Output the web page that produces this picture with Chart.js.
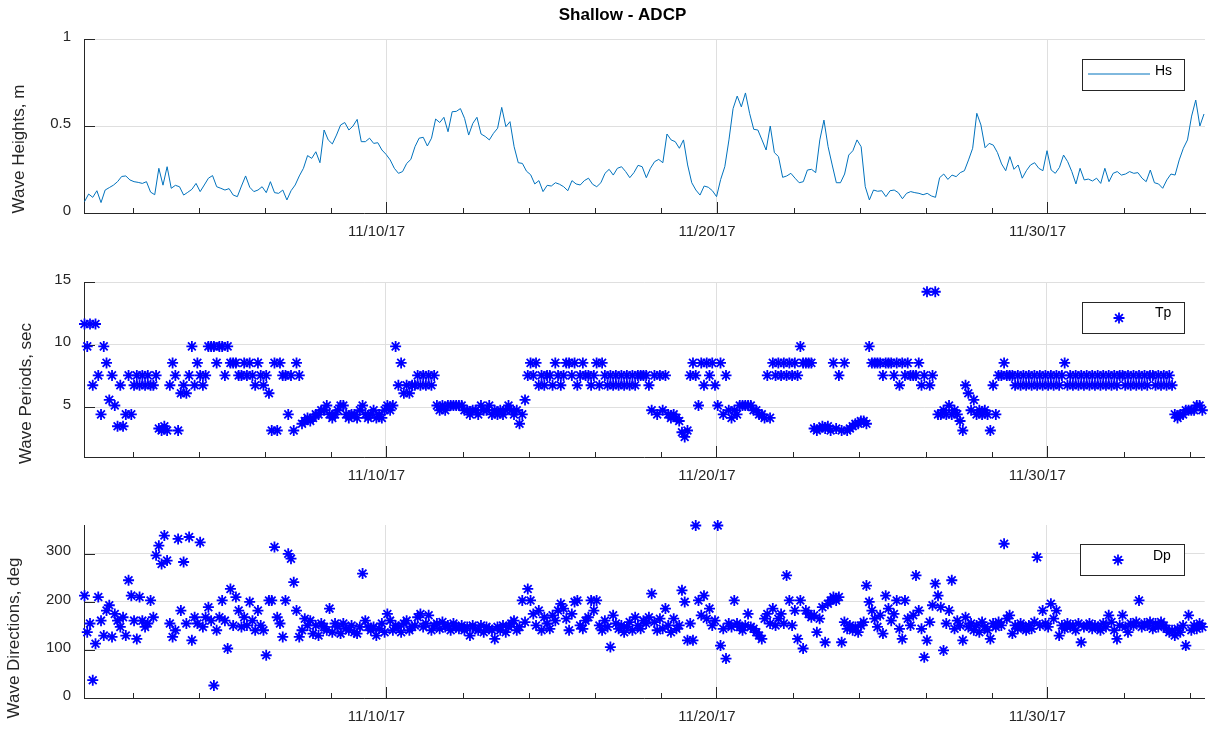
<!DOCTYPE html>
<html>
<head>
<meta charset="utf-8">
<title>Shallow - ADCP</title>
<script src="https://cdn.jsdelivr.net/npm/chart.js@4.4.1/dist/chart.umd.min.js"></script>
<style>
  html, body { margin: 0; padding: 0; background: #fff; }
  #wrap { position: relative; width: 1212px; height: 729px; overflow: hidden; }
  #wrap canvas { position: absolute; left: 0; }
</style>
</head>
<body>
<div id="wrap">
  <canvas id="hs" width="1212" height="243" style="top:0"></canvas>
  <canvas id="tp" width="1212" height="243" style="top:243px"></canvas>
  <canvas id="dp" width="1212" height="243" style="top:486px"></canvas>
</div>
<script>
// time axis: x = day of November 2017 (11/10/17 00:00 -> 10)
// first record 10/31/17 21:00, Hs every 3 h, Tp and Dp every 2 h
const startDay = 0.875;
const hsStepHours = 3;
const waveStepHours = 2;
const xMin = 0.86, xMax = 34.78;
const xTickDays = [10, 20, 30];
const xTickLabels = ['11/10/17', '11/20/17', '11/30/17'];
const minorTickDays = [2.33, 4.33, 6.33, 8.33, 12.33, 14.33, 16.33, 18.33, 22.33, 24.33, 26.33, 28.33, 32.33, 34.33];

const hsTicks = [0, 0.5, 1];
const tpTicks = [5, 10, 15];
const dpTicks = [0, 100, 200, 300];

// significant wave height, m
const hsValues = [
  0.065, 0.109, 0.09, 0.128, 0.06, 0.132, 0.146, 0.16, 0.18, 0.21,
  0.213, 0.19, 0.18, 0.176, 0.17, 0.18, 0.12, 0.105, 0.257, 0.16,
  0.266, 0.142, 0.159, 0.151, 0.103, 0.119, 0.136, 0.17, 0.123, 0.161,
  0.2, 0.215, 0.151, 0.142, 0.132, 0.14, 0.103, 0.094, 0.155, 0.213,
  0.148, 0.123, 0.132, 0.151, 0.117, 0.18, 0.117, 0.113, 0.132, 0.075,
  0.128, 0.161, 0.213, 0.257, 0.33, 0.314, 0.352, 0.289, 0.477, 0.42,
  0.397, 0.448, 0.506, 0.52, 0.477, 0.5, 0.538, 0.41, 0.41, 0.43,
  0.4, 0.404, 0.362, 0.337, 0.305, 0.257, 0.228, 0.238, 0.285, 0.308,
  0.381, 0.43, 0.435, 0.385, 0.43, 0.54, 0.52, 0.55, 0.467, 0.582,
  0.584, 0.6, 0.544, 0.448, 0.515, 0.55, 0.454, 0.44, 0.42, 0.458,
  0.487, 0.607, 0.496, 0.525, 0.381, 0.289, 0.285, 0.24, 0.22, 0.167,
  0.186, 0.123, 0.159, 0.155, 0.174, 0.165, 0.151, 0.128, 0.186, 0.167,
  0.161, 0.186, 0.2, 0.165, 0.151, 0.174, 0.228, 0.251, 0.218, 0.257,
  0.266, 0.238, 0.203, 0.232, 0.274, 0.266, 0.203, 0.257, 0.295, 0.308,
  0.289, 0.454, 0.42, 0.41, 0.372, 0.42, 0.276, 0.174, 0.132, 0.103,
  0.155, 0.148, 0.128, 0.094, 0.193, 0.266, 0.42, 0.6, 0.672, 0.61,
  0.69, 0.573, 0.481, 0.477, 0.42, 0.362, 0.5, 0.347, 0.324, 0.205,
  0.213, 0.228, 0.2, 0.174, 0.18, 0.247, 0.251, 0.232, 0.42, 0.534,
  0.381, 0.276, 0.174, 0.174, 0.224, 0.333, 0.358, 0.42, 0.381, 0.151,
  0.075, 0.132, 0.125, 0.128, 0.094, 0.128, 0.132, 0.117, 0.082, 0.113,
  0.123, 0.117, 0.113, 0.105, 0.113, 0.098, 0.09, 0.203, 0.224, 0.193,
  0.218, 0.209, 0.232, 0.243, 0.305, 0.372, 0.573, 0.506, 0.375, 0.4,
  0.39, 0.347, 0.282, 0.243, 0.324, 0.251, 0.276, 0.2, 0.243, 0.276,
  0.289, 0.257, 0.243, 0.358, 0.247, 0.228, 0.262, 0.333, 0.295, 0.238,
  0.167, 0.257, 0.19, 0.195, 0.184, 0.2, 0.17, 0.257, 0.18, 0.228,
  0.238, 0.218, 0.224, 0.238, 0.228, 0.232, 0.2, 0.18, 0.247, 0.174,
  0.167, 0.142, 0.19, 0.224, 0.218, 0.305, 0.372, 0.42, 0.557, 0.649,
  0.5, 0.569
];

// peak period, sec
const tpValues = [
  11.64, 9.85, 11.64, 6.74, 11.64, 7.53, 4.41, 9.85, 8.53, 5.57,
  7.53, 5.12, 3.46, 6.74, 3.46, 4.41, 7.53, 4.41, 6.74, 7.53,
  6.74, 7.53, 6.74, 7.53, 6.74, 6.74, 7.53, 3.28, 3.12, 3.46,
  3.12, 6.74, 8.53, 7.53, 3.12, 6.10, 6.74, 6.10, 7.53, 9.85,
  6.74, 8.53, 7.53, 6.74, 7.53, 9.85, 9.85, 9.85, 8.53, 9.85,
  9.85, 7.53, 9.85, 8.53, 8.53, 8.53, 7.53, 7.53, 8.53, 7.53,
  8.53, 7.53, 6.74, 8.53, 7.53, 6.74, 7.53, 6.10, 3.12, 8.53,
  3.12, 8.53, 7.53, 7.53, 4.41, 7.53, 3.12, 8.53, 7.53, 3.66,
  3.88, 4.13, 3.88, 4.13, 4.41, 4.41, 4.74, 4.74, 5.12, 4.41,
  4.13, 4.41, 4.74, 5.12, 5.12, 4.41, 4.13, 4.41, 4.41, 4.13,
  4.74, 5.12, 4.41, 4.13, 4.41, 4.74, 4.13, 4.41, 4.13, 4.74,
  5.12, 4.74, 5.12, 9.85, 6.74, 8.53, 6.10, 6.74, 6.10, 6.74,
  6.74, 7.53, 6.74, 7.53, 6.74, 7.53, 6.74, 7.53, 5.12, 4.74,
  5.12, 4.74, 5.12, 5.12, 5.12, 5.12, 5.12, 5.12, 4.74, 4.74,
  4.41, 4.74, 4.74, 4.41, 5.12, 4.74, 4.74, 5.12, 4.41, 4.74,
  4.41, 4.74, 4.41, 4.74, 5.12, 4.74, 4.41, 4.74, 3.66, 4.41,
  5.57, 7.53, 8.53, 7.53, 8.53, 6.74, 7.53, 6.74, 7.53, 7.53,
  6.74, 8.53, 7.53, 6.74, 7.53, 8.53, 8.53, 7.53, 8.53, 6.74,
  7.53, 8.53, 7.53, 7.53, 6.74, 7.53, 8.53, 6.74, 8.53, 7.53,
  6.74, 7.53, 6.74, 7.53, 6.74, 7.53, 6.74, 7.53, 6.74, 7.53,
  6.74, 7.53, 7.53, 7.53, 7.53, 6.74, 4.74, 7.53, 4.41, 7.53,
  4.74, 7.53, 4.41, 4.13, 4.41, 4.13, 3.88, 2.98, 2.61, 3.12,
  7.53, 8.53, 7.53, 5.12, 8.53, 6.74, 8.53, 7.53, 8.53, 6.74,
  5.12, 8.53, 4.41, 7.53, 4.74, 4.13, 4.74, 4.41, 5.12, 5.12,
  5.12, 5.12, 5.12, 4.74, 4.74, 4.41, 4.41, 4.13, 7.53, 4.13,
  8.53, 7.53, 8.53, 7.53, 8.53, 7.53, 8.53, 7.53, 8.53, 7.53,
  9.85, 8.53, 8.53, 8.53, 8.53, 3.28, 3.12, 3.28, 3.46, 3.28,
  3.46, 3.12, 8.53, 3.28, 7.53, 3.12, 8.53, 3.12, 3.28, 3.46,
  3.66, 3.66, 3.88, 3.88, 3.66, 9.85, 8.53, 8.53, 8.53, 8.53,
  7.53, 8.53, 8.53, 8.53, 7.53, 8.53, 6.74, 8.53, 7.53, 8.53,
  7.53, 7.53, 7.53, 8.53, 6.74, 7.53, 14.22, 6.74, 7.53, 14.22,
  4.41, 4.41, 4.74, 4.41, 5.12, 4.41, 4.74, 4.41, 3.88, 3.12,
  6.74, 6.10, 4.74, 5.57, 4.41, 4.74, 4.41, 4.74, 4.41, 3.12,
  6.74, 4.41, 7.53, 7.53, 8.53, 7.53, 7.53, 7.53, 6.74, 7.53,
  6.74, 7.53, 6.74, 7.53, 6.74, 7.53, 6.74, 7.53, 6.74, 7.53,
  6.74, 7.53, 6.74, 7.53, 6.74, 7.53, 8.53, 6.74, 7.53, 6.74,
  7.53, 6.74, 7.53, 6.74, 7.53, 6.74, 7.53, 6.74, 7.53, 6.74,
  7.53, 6.74, 7.53, 6.74, 7.53, 6.74, 7.53, 7.53, 6.74, 7.53,
  6.74, 7.53, 6.74, 7.53, 6.74, 7.53, 6.74, 7.53, 7.53, 6.74,
  7.53, 6.74, 7.53, 6.74, 7.53, 6.74, 4.41, 4.13, 4.41, 4.41,
  4.74, 4.74, 4.74, 4.74, 5.12, 5.12, 4.74
];

// peak direction, deg
const dpValues = [
  213, 137, 155, 37, 113, 210, 161, 130, 182, 193,
  127, 175, 161, 148, 168, 130, 245, 213, 161, 123,
  210, 161, 148, 155, 203, 168, 297, 317, 279, 338,
  286, 155, 127, 141, 331, 182, 283, 155, 335, 120,
  168, 155, 324, 148, 168, 189, 161, 26, 141, 168,
  203, 161, 103, 227, 151, 210, 182, 148, 168, 151,
  200, 161, 141, 182, 151, 141, 89, 203, 203, 314,
  168, 155, 127, 203, 300, 290, 241, 182, 127, 141,
  165, 151, 161, 134, 151, 130, 155, 148, 141, 186,
  137, 155, 148, 134, 155, 144, 141, 151, 137, 134,
  148, 259, 161, 148, 141, 148, 130, 144, 155, 137,
  175, 161, 141, 151, 148, 137, 155, 161, 141, 148,
  151, 168, 175, 148, 155, 172, 141, 151, 155, 144,
  158, 148, 151, 141, 155, 148, 144, 151, 141, 148,
  130, 151, 144, 141, 151, 137, 148, 144, 141, 123,
  148, 141, 151, 137, 148, 155, 161, 141, 148, 203,
  158, 227, 203, 175, 151, 182, 141, 168, 155, 144,
  172, 161, 182, 196, 186, 165, 141, 175, 200, 203,
  151, 144, 161, 168, 203, 182, 203, 151, 141, 161,
  148, 106, 172, 155, 144, 151, 137, 148, 158, 141,
  168, 151, 144, 161, 155, 168, 217, 158, 141, 165,
  144, 186, 151, 137, 165, 144, 151, 224, 200, 120,
  155, 120, 359, 203, 172, 213, 165, 186, 151, 161,
  359, 109, 144, 82, 155, 148, 203, 155, 148, 141,
  151, 175, 148, 144, 137, 130, 123, 165, 175, 155,
  186, 151, 165, 175, 155, 255, 203, 151, 182, 123,
  203, 103, 182, 175, 168, 172, 137, 165, 189, 116,
  196, 203, 210, 203, 210, 116, 158, 144, 151, 141,
  148, 137, 151, 158, 234, 200, 182, 165, 148, 172,
  134, 213, 186, 161, 175, 203, 144, 123, 203, 165,
  151, 172, 255, 182, 144, 85, 120, 158, 193, 238,
  213, 189, 99, 155, 182, 245, 144, 161, 151, 120,
  168, 148, 155, 141, 151, 137, 158, 148, 141, 123,
  155, 148, 158, 151, 321, 165, 172, 134, 151, 144,
  155, 148, 141, 151, 144, 158, 293, 151, 182, 155,
  148, 196, 165, 182, 130, 151, 144, 155, 148, 151,
  141, 155, 116, 148, 151, 155, 144, 151, 148, 141,
  155, 148, 172, 158, 141, 123, 151, 172, 148, 137,
  155, 151, 158, 203, 148, 155, 151, 158, 144, 155,
  148, 158, 151, 144, 137, 141, 130, 144, 137, 151,
  109, 172, 141, 151, 144, 155, 148
];

const AXIS = '#262626';
const GRID = '#dfdfdf';
const TEXT = '#262626';
const FONT = "'Liberation Sans', Arial, Helvetica, sans-serif";

function series(values, stepHours) {
  return values.map((v, i) => ({ x: startDay + i * stepHours / 24, y: v }));
}

function drawStar(ctx, x, y, r) {
  const d = r * Math.SQRT1_2;
  ctx.beginPath();
  ctx.moveTo(x - r, y); ctx.lineTo(x + r, y);
  ctx.moveTo(x, y - r); ctx.lineTo(x, y + r);
  ctx.moveTo(x - d, y - d); ctx.lineTo(x + d, y + d);
  ctx.moveTo(x - d, y + d); ctx.lineTo(x + d, y - d);
  ctx.stroke();
}

// inward tick marks, y label, legend box and figure title, MATLAB style
const matlabLook = {
  id: 'matlabLook',
  beforeDatasetsDraw(chart) {
    const { ctx, chartArea: a, scales: { x, y } } = chart;
    ctx.save();
    ctx.strokeStyle = AXIS;
    ctx.lineWidth = 1;
    ctx.beginPath();
    y.ticks.forEach(t => {
      const py = Math.round(y.getPixelForValue(t.value)) + 0.5;
      ctx.moveTo(a.left, py); ctx.lineTo(a.left + 11, py);
    });
    x.ticks.forEach(t => {
      const px = Math.round(x.getPixelForValue(t.value)) + 0.5;
      ctx.moveTo(px, a.bottom); ctx.lineTo(px, a.bottom - 11);
    });
    minorTickDays.forEach(d => {
      const px = Math.round(x.getPixelForValue(d)) + 0.5;
      ctx.moveTo(px, a.bottom); ctx.lineTo(px, a.bottom - 5);
    });
    ctx.stroke();
    ctx.restore();
  },
  afterDraw(chart, args, o) {
    const { ctx } = chart;
    ctx.save();
    // y axis label
    ctx.translate(o.yLabelX, o.yLabelY);
    ctx.rotate(-Math.PI / 2);
    ctx.font = '17px ' + FONT;
    ctx.fillStyle = TEXT;
    ctx.textAlign = 'center';
    ctx.textBaseline = 'middle';
    ctx.fillText(o.yLabel, 0, 0);
    ctx.restore();

    // legend
    const ds = chart.data.datasets[0];
    const b = o.legend;
    ctx.save();
    ctx.fillStyle = '#fff';
    ctx.fillRect(b.x, b.y, b.w, b.h);
    ctx.strokeStyle = AXIS;
    ctx.lineWidth = 1;
    ctx.strokeRect(b.x + 0.5, b.y + 0.5, b.w, b.h);
    if (ds.showLine === false) {
      ctx.strokeStyle = ds.pointBorderColor;
      ctx.lineWidth = ds.pointBorderWidth;
      drawStar(ctx, b.markX, b.markY, ds.pointRadius);
    } else {
      ctx.strokeStyle = ds.borderColor;
      ctx.lineWidth = ds.borderWidth;
      ctx.beginPath();
      ctx.moveTo(b.markX - 31, b.markY);
      ctx.lineTo(b.markX + 31, b.markY);
      ctx.stroke();
    }
    ctx.fillStyle = '#000';
    ctx.font = '14px ' + FONT;
    ctx.textAlign = 'left';
    ctx.textBaseline = 'middle';
    ctx.fillText(ds.label, b.textX, b.textY);
    ctx.restore();

    if (o.title) {
      ctx.save();
      ctx.fillStyle = '#000';
      ctx.font = 'bold 17px ' + FONT;
      ctx.textAlign = 'center';
      ctx.textBaseline = 'alphabetic';
      ctx.fillText(o.title, 622.5, 20);
      ctx.restore();
    }
  }
};

function makePanel(canvasId, p) {
  return new Chart(document.getElementById(canvasId), {
    type: p.type,
    data: { datasets: [p.dataset] },
    options: {
      responsive: false,
      animation: false,
      events: [],
      layout: { padding: { top: 39, right: 7, bottom: 0, left: 0 } },
      plugins: {
        legend: { display: false },
        tooltip: { enabled: false },
        matlabLook: p.look
      },
      scales: {
        x: {
          type: 'linear',
          min: xMin,
          max: xMax,
          afterFit: s => { s.height = p.xAxisHeight; },
          afterBuildTicks: s => { s.ticks = xTickDays.map(v => ({ value: v })); },
          ticks: {
            callback: v => xTickLabels[xTickDays.indexOf(v)],
            autoSkip: false, maxRotation: 0, minRotation: 0,
            padding: 9.5, labelOffset: -9.5,
            color: TEXT, font: { family: FONT, size: 15 }
          },
          grid: { color: GRID, lineWidth: 1, drawTicks: false },
          border: { color: AXIS, width: 1 }
        },
        y: {
          type: 'linear',
          min: p.yMin,
          max: p.yMax,
          afterFit: s => { s.width = 84; },
          afterBuildTicks: s => { s.ticks = p.yTicks.map(v => ({ value: v })); },
          ticks: {
            callback: v => String(v),
            padding: 13, labelOffset: -2.5,
            color: TEXT, font: { family: FONT, size: 15 }
          },
          grid: { color: GRID, lineWidth: 1, drawTicks: false },
          border: { color: AXIS, width: 1 }
        }
      }
    },
    plugins: [matlabLook]
  });
}

const starStyle = {
  showLine: false,
  pointStyle: 'star',
  pointRadius: 5.5,
  pointBorderWidth: 1.8,
  pointBorderColor: '#0000ff',
  pointBackgroundColor: '#0000ff',
  clip: false
};

makePanel('hs', {
  type: 'line',
  xAxisHeight: 30,
  yMin: 0, yMax: 1, yTicks: hsTicks,
  dataset: {
    label: 'Hs',
    data: series(hsValues, hsStepHours),
    borderColor: '#0072bd',
    borderWidth: 1,
    pointRadius: 0,
    tension: 0,
    fill: false,
    clip: false
  },
  look: {
    title: 'Shallow - ADCP',
    yLabel: 'Wave Heights, m', yLabelX: 19.6, yLabelY: 149,
    legend: { x: 1082, y: 59, w: 102, h: 31, markX: 1119, markY: 74, textX: 1155, textY: 71.5 }
  }
});

makePanel('tp', {
  type: 'scatter',
  xAxisHeight: 29,
  yMin: 1, yMax: 15, yTicks: tpTicks,
  dataset: Object.assign({ label: 'Tp', data: series(tpValues, waveStepHours) }, starStyle),
  look: {
    yLabel: 'Wave Periods, sec', yLabelX: 26, yLabelY: 150.5,
    legend: { x: 1082, y: 59, w: 102, h: 31, markX: 1119, markY: 75, textX: 1155, textY: 70 }
  }
});

makePanel('dp', {
  type: 'scatter',
  xAxisHeight: 31,
  yMin: 0, yMax: 360, yTicks: dpTicks,
  dataset: Object.assign({ label: 'Dp', data: series(dpValues, waveStepHours) }, starStyle),
  look: {
    yLabel: 'Wave Directions, deg', yLabelX: 14.6, yLabelY: 152,
    legend: { x: 1080, y: 58, w: 104, h: 31, markX: 1118, markY: 74, textX: 1153, textY: 70.5 }
  }
});
</script>
</body>
</html>
